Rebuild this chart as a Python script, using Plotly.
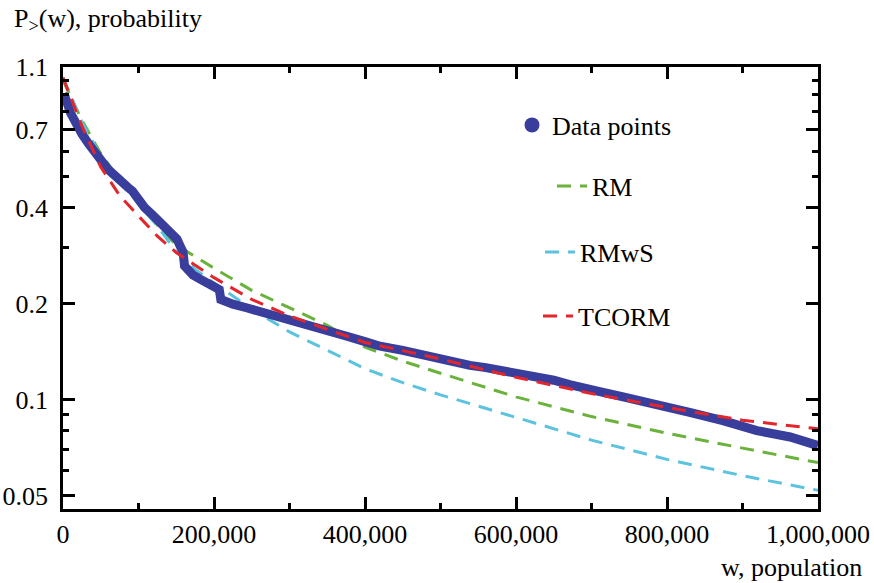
import plotly.graph_objects as go

# ---- data ----
w_data = [0, 3000, 10000, 16000, 25000, 34000, 47000, 60000, 70000, 78000, 86000, 92000,
          95000, 100000, 108000, 118000, 126000, 135000, 144000, 151000, 156000, 159000,
          161000, 165000, 172000, 181000, 192000, 204000, 207000, 209000, 215000, 225000,
          243000, 265000, 287000, 310000, 331000, 355000, 376000, 400000, 420000, 450000,
          475000, 495000, 520000, 539000, 560000, 583000, 605000, 627000, 650000, 671000,
          690000, 711000, 742000, 786000, 830000, 874000, 919000, 963000, 1000000]
p_data = [0.90, 0.885, 0.79, 0.735, 0.68, 0.632, 0.575, 0.525, 0.50, 0.485, 0.462, 0.45,
          0.44, 0.42, 0.40, 0.38, 0.364, 0.345, 0.33, 0.318, 0.30, 0.29,
          0.262, 0.254, 0.246, 0.239, 0.232, 0.225, 0.221, 0.206, 0.203, 0.199,
          0.194, 0.187, 0.181, 0.175, 0.169, 0.163, 0.158, 0.152, 0.147, 0.1427,
          0.138, 0.1343, 0.131, 0.128, 0.126, 0.1234, 0.121, 0.1177, 0.115, 0.1115,
          0.108, 0.106, 0.102, 0.097, 0.0913, 0.086, 0.080, 0.0764, 0.0718]

w_model = [0, 25000, 50000, 75000, 100000, 125000, 150000, 175000, 200000, 250000, 300000,
           350000, 400000, 450000, 500000, 600000, 700000, 800000, 900000, 1000000]
p_rm = [1.0, 0.75, 0.59, 0.49, 0.425, 0.352, 0.305, 0.28, 0.258, 0.22, 0.194,
        0.171, 0.146, 0.132, 0.121, 0.102, 0.0885, 0.0785, 0.0705, 0.0635]
p_rmws = [1.02, 0.74, 0.58, 0.49, 0.41, 0.35, 0.29, 0.256, 0.232, 0.192, 0.163,
          0.143, 0.125, 0.113, 0.1035, 0.088, 0.0747, 0.065, 0.0578, 0.052]
p_tcorm = [1.02, 0.72, 0.535, 0.436, 0.376, 0.325, 0.289, 0.264, 0.241, 0.206, 0.183,
           0.166, 0.151, 0.1424, 0.134, 0.1175, 0.1045, 0.0945, 0.0862, 0.081]

x_tickvals = [0, 200000, 400000, 600000, 800000, 1000000]
x_ticktext = ["0", "200,000", "400,000", "600,000", "800,000", "1,000,000"]
x_minor = [100000, 300000, 500000, 700000, 900000]
y_tickvals = [0.05, 0.1, 0.2, 0.4, 0.7, 1.1]
y_ticktext = ["0.05", "0.1", "0.2", "0.4", "0.7", "1.1"]
y_minor = [0.06, 0.07, 0.08, 0.09, 0.3, 0.5, 0.6, 0.8, 0.9, 1.0]

FONT = "Liberation Serif, DejaVu Serif, serif"
FS = 26
BLUE = "#393d9c"
GREEN = "#6ab23c"
CYAN = "#5cc3df"
RED = "#e2262c"
DASH = "14px,9px"

fig = go.Figure()
fig.add_trace(go.Scatter(x=w_model, y=p_rm, mode="lines", name="RM",
                         line=dict(color=GREEN, width=3, dash=DASH), legend="legend2"))
fig.add_trace(go.Scatter(x=w_model, y=p_rmws, mode="lines", name="RMwS",
                         line=dict(color=CYAN, width=3, dash=DASH), legend="legend3"))
fig.add_trace(go.Scatter(x=w_data, y=p_data, mode="lines", name="Data points",
                         line=dict(color=BLUE, width=9), showlegend=False))
fig.add_trace(go.Scatter(x=w_model, y=p_tcorm, mode="lines", name="TCORM",
                         line=dict(color=RED, width=3, dash=DASH), legend="legend4"))
# legend-only entry for the data points symbol
fig.add_trace(go.Scatter(x=[None], y=[None], mode="markers", name="Data points",
                         marker=dict(color=BLUE, size=15), legend="legend"))

W, H = 874, 583
L, R, T, B = 63, 56, 67, 74
pw, ph = W - L - R, H - T - B


def px(x):
    return (x - L) / pw


def py(y):
    return (H - B - y) / ph


leg_common = dict(font=dict(family=FONT, size=FS, color="black"),
                  bgcolor="rgba(0,0,0,0)", xanchor="left", yanchor="middle")

fig.update_layout(
    template="none",
    width=W, height=H,
    margin=dict(l=L, r=R, t=T, b=B, pad=0, autoexpand=False),
    paper_bgcolor="white", plot_bgcolor="white",
    font=dict(family=FONT, size=FS, color="black"),
    legend=dict(x=px(512), y=py(125), **leg_common),
    legend2=dict(x=px(552), y=py(186), **leg_common),
    legend3=dict(x=px(540), y=py(252), **leg_common),
    legend4=dict(x=px(538), y=py(316), **leg_common),
    xaxis=dict(range=[0, 1000000], tickmode="array", tickvals=x_tickvals,
               ticktext=x_ticktext, ticks="inside", ticklen=12, tickwidth=2.5,
               tickcolor="black", showline=True, linecolor="black", linewidth=2.5,
               mirror="ticks", showgrid=False, zeroline=False, automargin=False,
               tickfont=dict(family=FONT, size=FS),
               minor=dict(tickmode="array", tickvals=x_minor, ticks="inside",
                          ticklen=6, tickwidth=2.5, tickcolor="black", showgrid=False)),
    yaxis=dict(type="log", range=[-1.3425, 0.0418], tickmode="array",
               tickvals=y_tickvals, ticktext=y_ticktext, ticks="inside", ticklen=12,
               tickwidth=2.5, tickcolor="black", showline=True, linecolor="black",
               linewidth=2.5, mirror="ticks", showgrid=False, zeroline=False,
               automargin=False, ticklabelstandoff=7,
               tickfont=dict(family=FONT, size=FS),
               minor=dict(tickmode="array", tickvals=y_minor, ticks="inside",
                          ticklen=6, tickwidth=2.5, tickcolor="black", showgrid=False)),
    annotations=[
        dict(text="P<sub>&gt;</sub>(w), probability", xref="paper", yref="paper",
             x=px(12), y=py(20), xanchor="left", yanchor="middle", showarrow=False,
             font=dict(family=FONT, size=FS, color="black")),
        dict(text="w, population", xref="paper", yref="paper",
             x=px(864), y=py(567), xanchor="right", yanchor="middle", showarrow=False,
             font=dict(family=FONT, size=FS, color="black")),
    ],
)

fig.write_html("out.html", config={"displayModeBar": False},
               post_script="document.body.style.margin='0px';")
